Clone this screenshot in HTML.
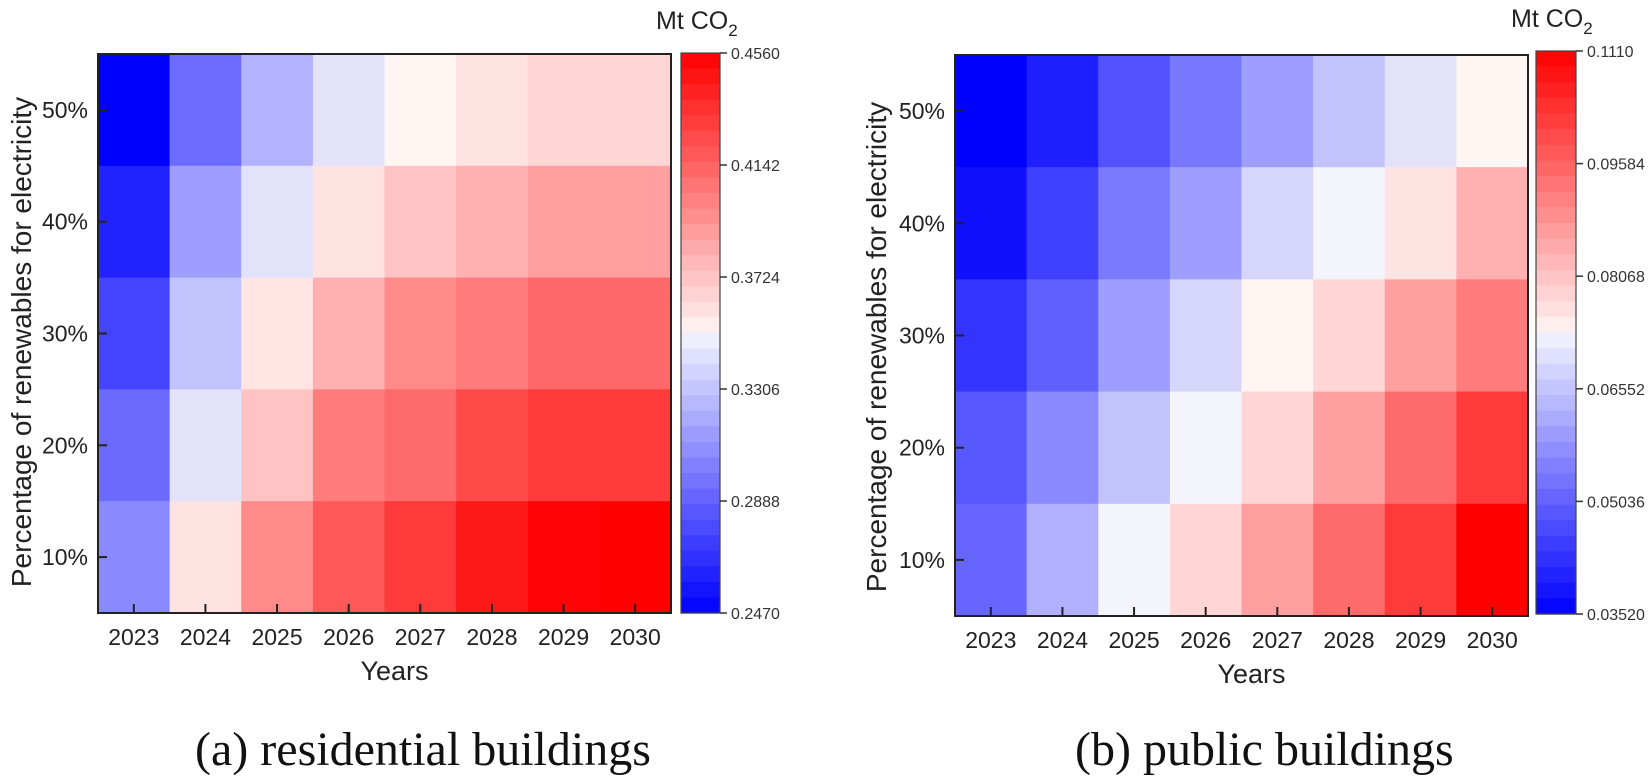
<!DOCTYPE html>
<html><head><meta charset="utf-8"><style>
html,body{margin:0;padding:0;background:#fff;}
svg{display:block;}
</style></head><body>
<svg id="s" width="1651" height="780" xmlns="http://www.w3.org/2000/svg" font-family="Liberation Sans, Arial, sans-serif"></svg>
<script>
const s=document.getElementById('s');
let h='';
const L=[
["#0000ff","#6b6bff","#b2b2ff","#e2e2fb","#fff5f3","#ffe2e2","#ffd6d6","#ffd6d6"],
["#2222ff","#9e9eff","#e2e2fb","#ffe2e2","#ffc3c3","#ffb0b0","#ff9f9f","#ff9f9f"],
["#4444ff","#c2c2fc","#ffe4e4","#ffb0b0","#ff8a8a","#ff7c7c","#ff6868","#ff6868"],
["#6a6aff","#e2e2fb","#ffc3c3","#ff7c7c","#ff6a6a","#ff4a4a","#ff3a3a","#ff3a3a"],
["#8a8aff","#ffe2e2","#ff8a8a","#ff5858","#ff3a3a","#ff1818","#ff0404","#ff0000"]];
const R=[
["#0000ff","#2020ff","#5252ff","#7878ff","#9e9eff","#c2c2fc","#e2e2fb","#fff5f3"],
["#1010ff","#4040ff","#7a7aff","#9e9eff","#d6d6fb","#f4f4fc","#ffe2e2","#ffb0b0"],
["#3434ff","#6060ff","#9e9eff","#d6d6fb","#fff5f3","#ffd6d6","#ffa0a0","#ff7c7c"],
["#5858ff","#8a8aff","#c2c2fc","#f4f4fc","#ffd6d6","#ffa0a0","#ff6a6a","#ff3a3a"],
["#6666ff","#b0b0ff","#f4f4fc","#ffd6d6","#ffa0a0","#ff6a6a","#ff3a3a","#ff0000"]];
function cbColor(t){
  if(t<0.5){const k=t/0.5;const v=Math.round(255*k*0.96);return `rgb(${v},${v},255)`;}
  const k=(t-0.5)/0.5;const v=Math.round(255*(1-k)*0.96);return `rgb(255,${v},${v})`;
}
function plot(x0,y0,x1,y1,data,cbx,cby,labels,ylabx,ylabcy){
  const cw=(x1-x0)/8,rh=(y1-y0)/5;
  for(let r=0;r<5;r++)for(let c=0;c<8;c++)
    h+=`<rect x="${x0+c*cw}" y="${y0+r*rh}" width="${cw+0.6}" height="${rh+0.6}" fill="${data[r][c]}"/>`;
  h+=`<rect x="${x0}" y="${y0}" width="${x1-x0}" height="${y1-y0}" fill="none" stroke="#222" stroke-width="2"/>`;
  const yrs=[2023,2024,2025,2026,2027,2028,2029,2030];
  for(let c=0;c<8;c++){const cx=x0+(c+0.5)*cw;
    h+=`<line x1="${cx}" y1="${y1}" x2="${cx}" y2="${y1-9}" stroke="#222" stroke-width="2"/>`;
    h+=`<text x="${cx}" y="${y1+32}" font-size="23" text-anchor="middle" fill="#222">${yrs[c]}</text>`;}
  const pct=["50%","40%","30%","20%","10%"];
  for(let r=0;r<5;r++){const cy=y0+(r+0.5)*rh;
    h+=`<line x1="${x0}" y1="${cy}" x2="${x0+9}" y2="${cy}" stroke="#222" stroke-width="2"/>`;
    h+=`<text x="${x0-10}" y="${cy+8}" font-size="23" text-anchor="end" fill="#222">${pct[r]}</text>`;}
  h+=`<text x="${(x0+x1)/2+10}" y="${y1+67}" font-size="27" text-anchor="middle" fill="#222">Years</text>`;
  h+=`<text transform="translate(${ylabx},${ylabcy}) rotate(-90)" font-size="28" text-anchor="middle" fill="#222">Percentage of renewables for electricity</text>`;
  const N=36,ch=(cby[1]-cby[0])/N;
  for(let i=0;i<N;i++){const t=1-(i+0.5)/N;
    h+=`<rect x="${cbx[0]}" y="${cby[0]+i*ch}" width="${cbx[1]-cbx[0]}" height="${ch+0.6}" fill="${cbColor(t)}"/>`;}
  h+=`<rect x="${cbx[0]}" y="${cby[0]}" width="${cbx[1]-cbx[0]}" height="${cby[1]-cby[0]}" fill="none" stroke="#444" stroke-width="1.2"/>`;
  for(let i=0;i<6;i++){const y=cby[0]+i*(cby[1]-cby[0])/5;
    h+=`<line x1="${cbx[1]}" y1="${y}" x2="${cbx[1]+7}" y2="${y}" stroke="#333" stroke-width="1.5"/>`;
    h+=`<text x="${cbx[1]+11}" y="${y+6}" font-size="16" fill="#333">${labels[i]}</text>`;}
  h+=`<text x="${cbx[0]-25}" y="${cby[0]-24}" font-size="25" fill="#222">Mt CO<tspan font-size="17" dy="7">2</tspan></text>`;
}
plot(98,54,671,613,L,[681,720],[53,613],["0.4560","0.4142","0.3724","0.3306","0.2888","0.2470"],31,342);
plot(955,55,1528,616,R,[1536,1576],[51,614],["0.1110","0.09584","0.08068","0.06552","0.05036","0.03520"],886,347);
h+=`<text x="195" y="765" font-family="Liberation Serif, serif" font-size="48" fill="#111">(a) residential buildings</text>`;
h+=`<text x="1075" y="765" font-family="Liberation Serif, serif" font-size="48" fill="#111">(b) public buildings</text>`;
s.innerHTML=h;
</script>
</body></html>
